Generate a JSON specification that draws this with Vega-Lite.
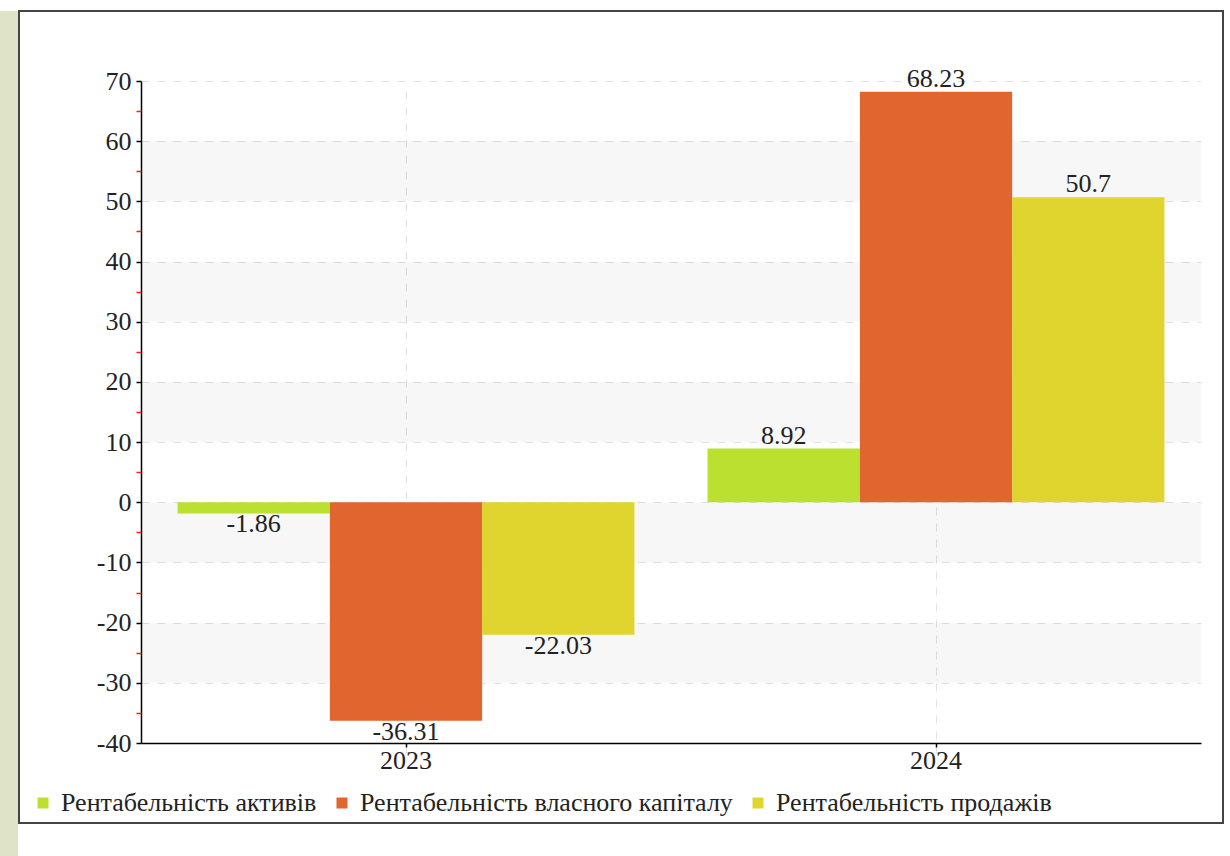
{
  "$schema": "https://vega.github.io/schema/vega-lite/v6.json",
  "padding": 0,
  "background": "white",
  "spacing": 0,
  "config": {"font": "Liberation Serif, DejaVu Serif, serif", "concat": {"spacing": 0}},
  "datasets": {
    "rent": [
      {"year": "2023", "indicator": "Рентабельність активів", "value": -1.86},
      {"year": "2023", "indicator": "Рентабельність власного капіталу", "value": -36.31},
      {"year": "2023", "indicator": "Рентабельність продажів", "value": -22.03},
      {"year": "2024", "indicator": "Рентабельність активів", "value": 8.92},
      {"year": "2024", "indicator": "Рентабельність власного капіталу", "value": 68.23},
      {"year": "2024", "indicator": "Рентабельність продажів", "value": 50.7}
    ],
    "bands": [
      {"lo": 50, "hi": 60},
      {"lo": 30, "hi": 40},
      {"lo": 10, "hi": 20},
      {"lo": -10, "hi": 0},
      {"lo": -30, "hi": -20}
    ],
    "empty": []
  },
  "hconcat": [
    {
      "width": 18,
      "height": 856,
      "data": {"name": "empty"},
      "mark": "rect",
      "encoding": {},
      "view": {"fill": "#dfe3c8", "stroke": null}
    },
    {
      "width": 1204,
      "height": 812,
      "title": {"text": " ", "fontSize": 10, "offset": 0, "anchor": "start"},
      "view": {"fill": "white", "stroke": "#444444", "strokeWidth": 2},
      "resolve": {"scale": {"x": "independent"}, "axis": {"x": "independent", "y": "independent"}},
      "layer": [
        {
          "data": {"name": "bands"},
          "mark": {"type": "rect", "color": "#000000", "opacity": 0.032},
          "encoding": {
            "x": {"datum": 0, "type": "quantitative", "scale": {"domain": [0, 1], "range": [122, 1182], "nice": false, "zero": false}, "axis": null},
            "x2": {"datum": 1},
            "y": {
              "field": "lo", "type": "quantitative",
              "scale": {"domain": [-40, 70], "range": [732, 70], "nice": false, "zero": false},
              "axis": {
                "orient": "left", "offset": -122, "title": null,
                "values": [-40, -30, -20, -10, 0, 10, 20, 30, 40, 50, 60, 70],
                "domain": true, "domainColor": "#000000", "domainWidth": 1.5,
                "ticks": true, "tickColor": "#000000", "tickSize": 5, "tickWidth": 1.5,
                "labelFont": "Liberation Serif, DejaVu Serif, serif", "labelFontSize": 26, "labelColor": "#222222", "labelPadding": 5,
                "labelExpr": "'' + datum.value",
                "grid": true, "gridColor": "#e2e2e2", "gridDash": [8, 8], "gridWidth": 1
              }
            },
            "y2": {"field": "hi"}
          }
        },
        {
          "data": {"name": "rent"},
          "layer": [
            {
              "mark": {"type": "bar"},
              "encoding": {
                "x": {
                  "field": "year", "type": "nominal",
                  "scale": {"domain": ["2023", "2024"], "range": [122, 1182], "paddingInner": 0, "paddingOuter": 0},
                  "axis": {
                    "orient": "bottom", "offset": -80, "title": null, "labelAngle": 0,
                    "domain": true, "domainColor": "#000000", "domainWidth": 1.5,
                    "ticks": true, "tickColor": "#000000", "tickSize": 4, "tickWidth": 1.5,
                    "labelFont": "Liberation Serif, DejaVu Serif, serif", "labelFontSize": 26, "labelColor": "#222222", "labelPadding": 0,
                    "grid": true, "gridColor": "#e2e2e2", "gridDash": [8, 8], "gridWidth": 1,
                    "bandPosition": 0.5
                  }
                },
                "xOffset": {
                  "field": "indicator", "type": "nominal",
                  "scale": {"domain": ["Рентабельність активів", "Рентабельність власного капіталу", "Рентабельність продажів"], "paddingInner": 0, "paddingOuter": 0.24}
                },
                "y": {
                  "field": "value", "type": "quantitative",
                  "scale": {"domain": [-40, 70], "range": [732, 70], "nice": false, "zero": false},
                  "axis": {
                    "orient": "left", "offset": -122, "title": null,
                    "values": [-35, -25, -15, -5, 5, 15, 25, 35, 45, 55, 65],
                    "domain": false, "labels": false, "grid": false,
                    "ticks": true, "tickColor": "#ff1a1a", "tickSize": 5, "tickWidth": 1.5
                  }
                },
                "color": {
                  "field": "indicator", "type": "nominal",
                  "scale": {
                    "domain": ["Рентабельність активів", "Рентабельність власного капіталу", "Рентабельність продажів"],
                    "range": ["#bce02f", "#e0652e", "#e0d52e"]
                  },
                  "legend": {
                    "title": null, "orient": "none", "legendX": 30, "legendY": 779,
                    "direction": "horizontal", "symbolType": "square", "symbolSize": 121, "symbolStrokeWidth": 0,
                    "labelFont": "Liberation Serif, DejaVu Serif, serif", "labelFontSize": 26, "labelColor": "#222222",
                    "labelLimit": 1000, "labelOffset": 5, "columnPadding": 12, "padding": 0
                  }
                }
              }
            },
            {
              "transform": [{"filter": "datum.value >= 0"}],
              "mark": {"type": "text", "baseline": "bottom", "dy": 0, "fontSize": 26, "font": "Liberation Serif, DejaVu Serif, serif", "color": "#222222"},
              "encoding": {
                "x": {"field": "year", "type": "nominal"},
                "xOffset": {"field": "indicator", "type": "nominal"},
                "y": {"field": "value", "type": "quantitative"},
                "text": {"field": "value", "type": "nominal"}
              }
            },
            {
              "transform": [{"filter": "datum.value < 0"}],
              "mark": {"type": "text", "baseline": "top", "dy": -2, "fontSize": 26, "font": "Liberation Serif, DejaVu Serif, serif", "color": "#222222"},
              "encoding": {
                "x": {"field": "year", "type": "nominal"},
                "xOffset": {"field": "indicator", "type": "nominal"},
                "y": {"field": "value", "type": "quantitative"},
                "text": {"field": "value", "type": "nominal"}
              }
            }
          ]
        }
      ]
    }
  ]
}
